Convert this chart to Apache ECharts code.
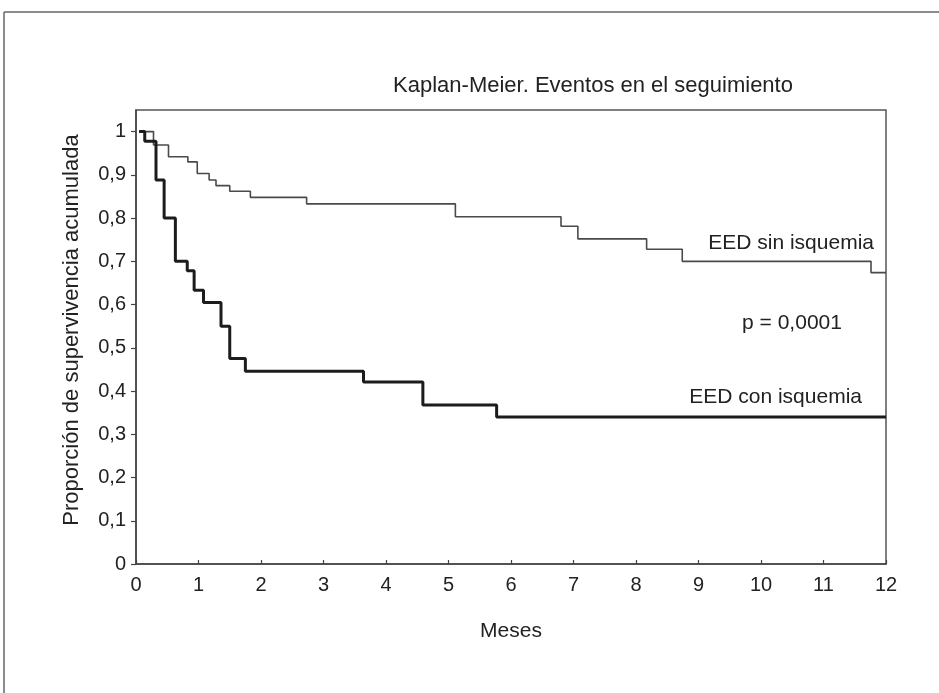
<!DOCTYPE html>
<html>
<head>
<meta charset="utf-8">
<style>
html,body{margin:0;padding:0;background:#fff;}
#chart{width:939px;height:693px;}
</style>
<script src="https://cdn.jsdelivr.net/npm/echarts@6/dist/echarts.min.js"></script>
</head>
<body>
<div id="chart"></div>
<script>
// Tick values / labels
const xTickValues = [0,1,2,3,4,5,6,7,8,9,10,11,12];
const yTickValues = [0,0.1,0.2,0.3,0.4,0.5,0.6,0.7,0.8,0.9,1];
const yTickLabels = ['0','0,1','0,2','0,3','0,4','0,5','0,6','0,7','0,8','0,9','1'];

// EED sin isquemia: event times (months) and survival after each step
const sinTimes  = [0.05, 0.28, 0.52, 0.83, 0.98, 1.17, 1.28, 1.50, 1.83, 2.73, 5.11, 6.80, 7.07, 8.17, 8.74, 11.76, 12];
const sinValues = [1.000,0.969,0.942,0.930,0.903,0.888,0.875,0.862,0.848,0.833,0.803,0.781,0.752,0.728,0.700,0.674,0.674];

// EED con isquemia
const conTimes  = [0.05, 0.14, 0.32, 0.45, 0.63, 0.82, 0.93, 1.08, 1.36, 1.50, 1.75, 3.64, 4.59, 5.77, 12];
const conValues = [1.000,0.978,0.888,0.800,0.700,0.678,0.633,0.605,0.550,0.475,0.446,0.421,0.368,0.340,0.340];

const FONT = '"Liberation Sans", Arial, sans-serif';
const TXT = '#222';

const chart = echarts.init(document.getElementById('chart'), null, {renderer:'canvas'});
const zip = (a,b)=>a.map((t,i)=>[t,b[i]]);

chart.setOption({
  animation:false,
  backgroundColor:'#fff',
  grid:{left:136, right:53, top:110, bottom:129, show:true, borderColor:'#555', borderWidth:1.5, backgroundColor:'transparent'},
  xAxis:{
    type:'value', min:0, max:12, interval:1,
    name:'Meses', nameLocation:'middle', nameGap:57,
    nameTextStyle:{fontFamily:FONT, fontSize:21, color:TXT},
    axisLine:{lineStyle:{color:'#444', width:1.5}},
    axisTick:{inside:true, length:4, lineStyle:{color:'#444', width:1.2}},
    axisLabel:{fontFamily:FONT, fontSize:20, color:TXT, margin:11,
      formatter:v=>xTickValues.includes(v)?String(v):''},
    splitLine:{show:false}
  },
  yAxis:{
    type:'value', min:0, max:1.05, interval:0.1,
    name:'Proporción de supervivencia acumulada', nameLocation:'middle', nameGap:53, nameRotate:90,
    nameTextStyle:{fontFamily:FONT, fontSize:22, color:TXT, padding:[0,0,0,14]},
    axisLine:{lineStyle:{color:'#444', width:1.5}},
    axisTick:{inside:false, length:5, lineStyle:{color:'#444', width:1.2}, customValues:yTickValues},
    axisLabel:{fontFamily:FONT, fontSize:20, color:TXT, margin:10, customValues:yTickValues,
      formatter:v=>{const i=yTickValues.findIndex(t=>Math.abs(t-v)<1e-6);return i>=0?yTickLabels[i]:'';}},
    splitLine:{show:false}
  },
  series:[
    {type:'line', step:'end', symbol:'none', data:zip(sinTimes,sinValues),
     lineStyle:{color:'#4a4a4a', width:1.6}, z:3},
    {type:'line', step:'end', symbol:'none', data:zip(conTimes,conValues),
     lineStyle:{color:'#1c1c1c', width:3}, z:4}
  ],
  graphic:[
    {type:'line', shape:{x1:4, y1:12, x2:939, y2:12}, style:{stroke:'#666', lineWidth:1.5}},
    {type:'line', shape:{x1:4, y1:12, x2:4, y2:693}, style:{stroke:'#666', lineWidth:1.5}},
    {type:'text', x:593, y:86, style:{text:'Kaplan-Meier. Eventos en el seguimiento', font:'22px '+FONT, fill:TXT, textAlign:'center', textVerticalAlign:'middle'}},
    {type:'text', x:874, y:243, style:{text:'EED sin isquemia', font:'21px '+FONT, fill:TXT, textAlign:'right', textVerticalAlign:'middle'}},
    {type:'text', x:792, y:323, style:{text:'p = 0,0001', font:'21px '+FONT, fill:TXT, textAlign:'center', textVerticalAlign:'middle'}},
    {type:'text', x:862, y:397, style:{text:'EED con isquemia', font:'21px '+FONT, fill:TXT, textAlign:'right', textVerticalAlign:'middle'}}
  ]
});
</script>
</body>
</html>
